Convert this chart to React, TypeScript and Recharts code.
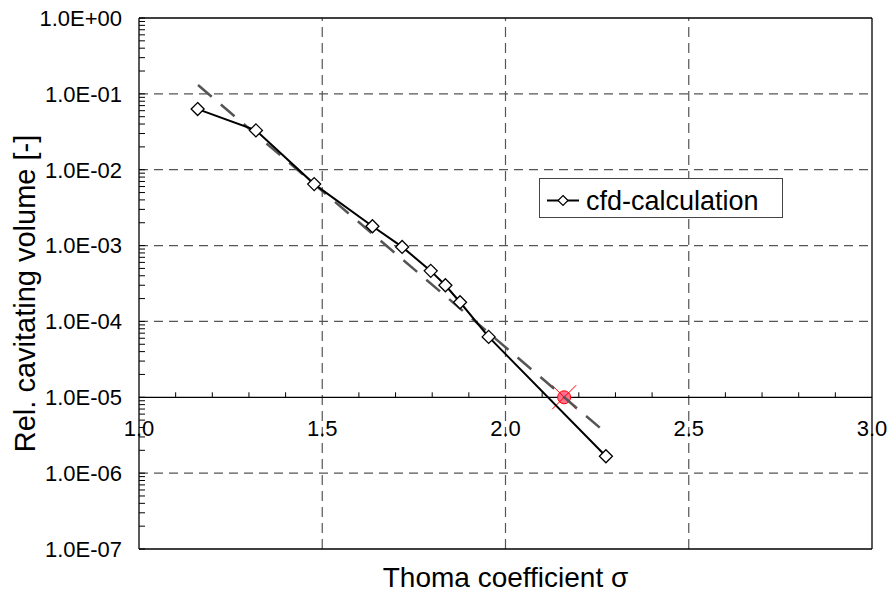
import React from 'react';
import {
  ComposedChart,
  Scatter,
  XAxis,
  YAxis,
  ReferenceLine,
  ReferenceDot,
  Legend,
} from 'recharts';

// ---- data ----
const sigma = [1.16, 1.319, 1.478, 1.637, 1.718, 1.796, 1.836, 1.876, 1.954, 2.274];
const volume = [0.063, 0.033, 0.00646, 0.0018, 0.00096, 4.64e-4, 3.0e-4, 1.79e-4, 6.25e-5, 1.67e-6];
const trendSigma = [1.161, 2.269];
const trendVolume = [0.1306, 3.56e-6];
const critSigma = [2.16];
const critVolume = [1e-5];

const xLabelTicks = [1.0, 1.5, 2.0, 2.5, 3.0];
const xMinorTicks = [1.1, 1.2, 1.3, 1.4, 1.6, 1.7, 1.8, 1.9, 2.1, 2.2, 2.3, 2.4, 2.6, 2.7, 2.8, 2.9];
const xGrid = [1.5, 2.0, 2.5];
const yDecades = [1, 1e-1, 1e-2, 1e-3, 1e-4, 1e-5, 1e-6, 1e-7];
const yGrid = [1e-1, 1e-2, 1e-3, 1e-4, 1e-6];
const yMinorMultipliers = [2, 3, 4, 5, 6, 7, 8, 9];
const xAxisCrossing = 1e-5;
const seriesName = 'cfd-calculation';
const xTitle = 'Thoma coefficient \u03c3';
const yTitle = 'Rel. cavitating volume [-]';

const FONT = '"Liberation Sans", Arial, Helvetica, sans-serif';

const mainData = sigma.map((s, i) => ({ x: s, y: volume[i] }));
const trendData = trendSigma.map((s, i) => ({ x: s, y: trendVolume[i] }));
const critData = critSigma.map((s, i) => ({ x: s, y: critVolume[i] }));

const yTicksAll: number[] = [];
yDecades.forEach((d) => {
  yTicksAll.push(d);
  if (d < 1) yMinorMultipliers.forEach((m) => yTicksAll.push(d * m));
});

const fmtExp = (v: number) => {
  const n = Math.round(Math.log10(v));
  const s = n >= 0 ? '+' : '-';
  return `1.0E${s}${String(Math.abs(n)).padStart(2, '0')}`;
};

const isDecade = (v: number) => yDecades.some((d) => Math.abs(v / d - 1) < 1e-6);

const YTick = (props: any) => {
  const { x, y, payload } = props;
  const v = payload.value;
  return (
    <g>
      <line x1={x + 17} x2={x + 23} y1={y} y2={y} stroke="#000" strokeWidth={1} />
      {isDecade(v) && (
        <text x={x} y={y} dy="0.36em" textAnchor="end" fontSize={22} fontFamily={FONT} fill="#000">
          {fmtExp(v)}
        </text>
      )}
    </g>
  );
};

const Diamond = (props: any) => {
  const { cx, cy } = props;
  const r = 6.5;
  return (
    <path
      d={`M${cx},${cy - r}L${cx + r},${cy}L${cx},${cy + r}L${cx - r},${cy}Z`}
      fill="#fff"
      stroke="#000"
      strokeWidth={1.3}
    />
  );
};

const CritMarker = (props: any) => {
  const { cx, cy } = props;
  return (
    <g>
      <circle cx={cx} cy={cy} r={6.5} fill="#ff6f8f" stroke="#ff0000" strokeWidth={1} />
      <line x1={cx - 12} y1={cy + 12} x2={cx + 12} y2={cy - 12} stroke="#ff0000" strokeWidth={1} />
      <line x1={cx - 12} y1={cy - 12} x2={cx + 12} y2={cy + 12} stroke="#ff0000" strokeWidth={1} />
    </g>
  );
};

const Empty = () => <g />;

const LegendBox = () => (
  <div
    style={{
      width: 242,
      height: 38,
      border: '1px solid #444',
      background: '#fff',
      position: 'relative',
      fontFamily: FONT,
    }}
  >
    <svg width={242} height={38} style={{ position: 'absolute', left: 0, top: 0 }}>
      <line x1={7} x2={39} y1={21.5} y2={21.5} stroke="#000" strokeWidth={2} />
      <path d="M23,16.5L28,21.5L23,26.5L18,21.5Z" fill="#fff" stroke="#000" strokeWidth={1.2} />
      <text x={46} y={31} fontSize={27} fontFamily={FONT} fill="#000">
        {seriesName}
      </text>
    </svg>
  </div>
);

const YTitle = (props: any) => {
  const vb = props.viewBox || { x: 0, y: 18, width: 139, height: 531 };
  const cx = vb.x + 35;
  const cy = vb.y + vb.height / 2 + 10;
  return (
    <text
      transform={`translate(${cx},${cy}) rotate(-90)`}
      textAnchor="middle"
      fontSize={29}
      fontFamily={FONT}
      fill="#000"
    >
      {yTitle}
    </text>
  );
};

export default function App() {
  return (
    <div style={{ position: 'absolute', left: 0, top: 0, background: '#fff' }}>
      <ComposedChart
        width={890}
        height={594}
        margin={{ top: 18, right: 18, bottom: 0, left: 0 }}
        style={{ fontFamily: FONT }}
      >
        <XAxis
          type="number"
          dataKey="x"
          domain={[1, 3]}
          ticks={xLabelTicks}
          allowDataOverflow
          height={45}
          tick={false}
          tickLine={false}
          axisLine={{ stroke: '#000', strokeWidth: 1.3 }}
          label={{
            value: xTitle,
            position: 'insideBottom',
            offset: 7,
            fontSize: 28,
            fontFamily: FONT,
            fill: '#000',
          }}
        />
        <YAxis
          type="number"
          dataKey="y"
          scale="log"
          domain={[1e-7, 1]}
          allowDataOverflow
          ticks={yTicksAll}
          interval={0}
          width={139}
          tickSize={0}
          tickMargin={17}
          tickLine={false}
          tick={<YTick />}
          axisLine={{ stroke: '#000', strokeWidth: 1.3 }}
          label={{ value: yTitle, content: <YTitle /> }}
        />

        {yGrid.map((v) => (
          <ReferenceLine key={`hg${v}`} y={v} stroke="#555" strokeWidth={1.2} strokeDasharray="9 6" />
        ))}
        {xGrid.map((v) => (
          <ReferenceLine key={`vg${v}`} x={v} stroke="#555" strokeWidth={1.2} strokeDasharray="10 6" />
        ))}
        <ReferenceLine y={1} stroke="#000" strokeWidth={1.3} />
        <ReferenceLine x={3} stroke="#000" strokeWidth={1.3} />
        <ReferenceLine y={xAxisCrossing} stroke="#000" strokeWidth={1.3} />

        {xMinorTicks.map((t) => (
          <ReferenceDot
            key={`xm${t}`}
            x={t}
            y={xAxisCrossing}
            r={0}
            shape={(p: any) => (
              <line x1={p.cx} x2={p.cx} y1={p.cy} y2={p.cy - 5} stroke="#000" strokeWidth={1} />
            )}
          />
        ))}
        {xLabelTicks.map((t) => (
          <ReferenceDot
            key={`xl${t}`}
            x={t}
            y={xAxisCrossing}
            r={0}
            shape={(p: any) => (
              <text
                x={p.cx}
                y={p.cy + 39}
                textAnchor="middle"
                fontSize={22}
                fontFamily={FONT}
                fill="#000"
              >
                {t.toFixed(1)}
              </text>
            )}
          />
        ))}

        <Scatter
          name="critical"
          data={critData}
          shape={<CritMarker />}
          isAnimationActive={false}
          legendType="none"
        />
        <Scatter
          name="trend"
          data={trendData}
          shape={<Empty />}
          line={{ stroke: '#555', strokeWidth: 2.5, strokeDasharray: '18 12' }}
          lineType="joint"
          isAnimationActive={false}
          legendType="none"
        />
        <Scatter
          name={seriesName}
          data={mainData}
          shape={<Diamond />}
          line={{ stroke: '#000', strokeWidth: 2 }}
          lineType="joint"
          isAnimationActive={false}
        />

        <Legend
          layout="horizontal"
          verticalAlign="middle"
          align="center"
          wrapperStyle={{ left: 539, top: 178, width: 244, height: 40 }}
          content={<LegendBox />}
        />
      </ComposedChart>
    </div>
  );
}
